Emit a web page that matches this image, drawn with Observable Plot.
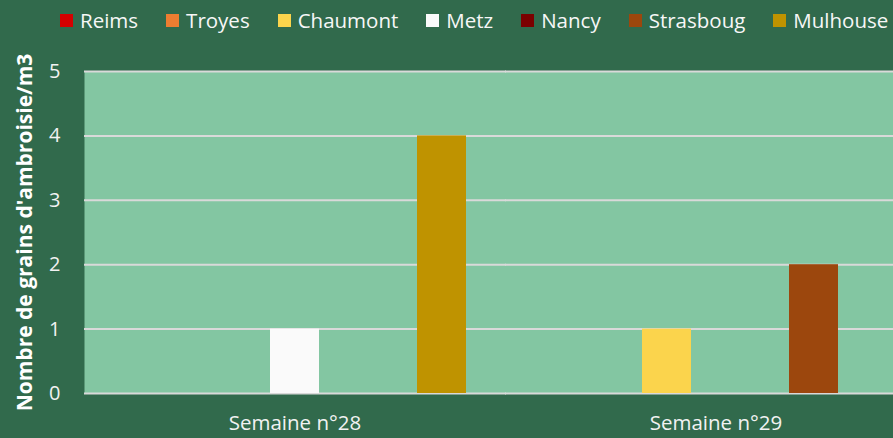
<!DOCTYPE html>
<html>
<head>
<meta charset="utf-8">
<script src="https://cdn.jsdelivr.net/npm/d3@7"></script>
<script src="https://cdn.jsdelivr.net/npm/@observablehq/plot@0.6"></script>
<style>
  html, body { margin: 0; padding: 0; background: #316A4C; overflow: hidden; }
  #wrap { width: 893px; height: 438px; overflow: hidden; background: #316A4C; font-family: "Open Sans", Lato, sans-serif; }
  #legend { height: 40px; display: flex; align-items: center; padding-left: 60px; box-sizing: border-box; color: #F7F7F7; font-size: 20.5px; white-space: nowrap; }
  .item { display: flex; align-items: center; margin-right: 28px; }
  .sw { width: 13px; height: 13px; margin-right: 7px; flex: none; }
  svg.chart { overflow: hidden; display: block; }
</style>
</head>
<body>
<div id="wrap">
  <div id="legend"></div>
  <div id="chart"></div>
</div>
<script>
const weeks = ["Semaine n°28", "Semaine n°29"];
const series = ["Reims", "Troyes", "Chaumont", "Metz", "Nancy", "Strasboug", "Mulhouse"];
const colors = ["#D40000", "#ED7D31", "#FBD44C", "#FAFAFA", "#7B0000", "#9C470D", "#BF9300"];
const week28 = [0, 0, 0, 1, 0, 0, 4];
const week29 = [0, 0, 1, 0, 0, 2, 0];
const yTicks = [0, 1, 2, 3, 4, 5];
const yLabel = "Nombre de grains d'ambroisie/m3";

const values = [week28, week29];
const data = [];
weeks.forEach((w, i) => series.forEach((s, j) => data.push({week: w, city: s, value: values[i][j]})));

// legend
const legend = document.getElementById("legend");
series.forEach((s, j) => {
  const it = document.createElement("div");
  it.className = "item";
  const sw = document.createElement("span");
  sw.className = "sw";
  sw.style.background = colors[j];
  const t = document.createElement("span");
  t.textContent = s;
  it.appendChild(sw); it.appendChild(t);
  legend.appendChild(it);
});

const chart = Plot.plot({
  width: 893,
  height: 398,
  marginTop: 31,
  marginBottom: 45,
  marginLeft: 83,
  marginRight: -33,
  style: {background: "transparent", fontFamily: "'Open Sans', Lato, sans-serif", fontSize: "20px", color: "#F2F2F2"},
  fx: {domain: weeks, padding: 0, label: null},
  x: {domain: series, paddingInner: 0, paddingOuter: 0.74, axis: null},
  y: {domain: [0, 5], ticks: yTicks},
  color: {domain: series, range: colors},
  marks: [
    Plot.frame({fill: "#83C6A2", stroke: null, insetRight: -1}),
    Plot.gridY(yTicks, {stroke: "#D9D9D9", strokeOpacity: 1, strokeWidth: 2, insetRight: -1}),
    Plot.barY(data, {fx: "week", x: "city", y: "value", fill: "city", inset: 0}),
    Plot.axisY(yTicks, {tickSize: 0, tickPadding: 24, tickFormat: "d", fontSize: 20, label: yLabel, labelAnchor: "center", labelOffset: 67, labelArrow: "none", fill: "#F2F2F2"}),
    Plot.axisFx({anchor: "bottom", tickSize: 0, tickPadding: 22, fontSize: 20.5, label: null, fill: "#F2F2F2"})
  ]
});
chart.classList.add("chart");
document.getElementById("chart").appendChild(chart);
const lab = chart.querySelector('g[aria-label="y-axis label"] text');
if (lab) { lab.setAttribute("font-weight", "bold"); lab.setAttribute("font-size", "21px"); lab.setAttribute("fill", "#FFFFFF"); }
</script>
</body>
</html>
